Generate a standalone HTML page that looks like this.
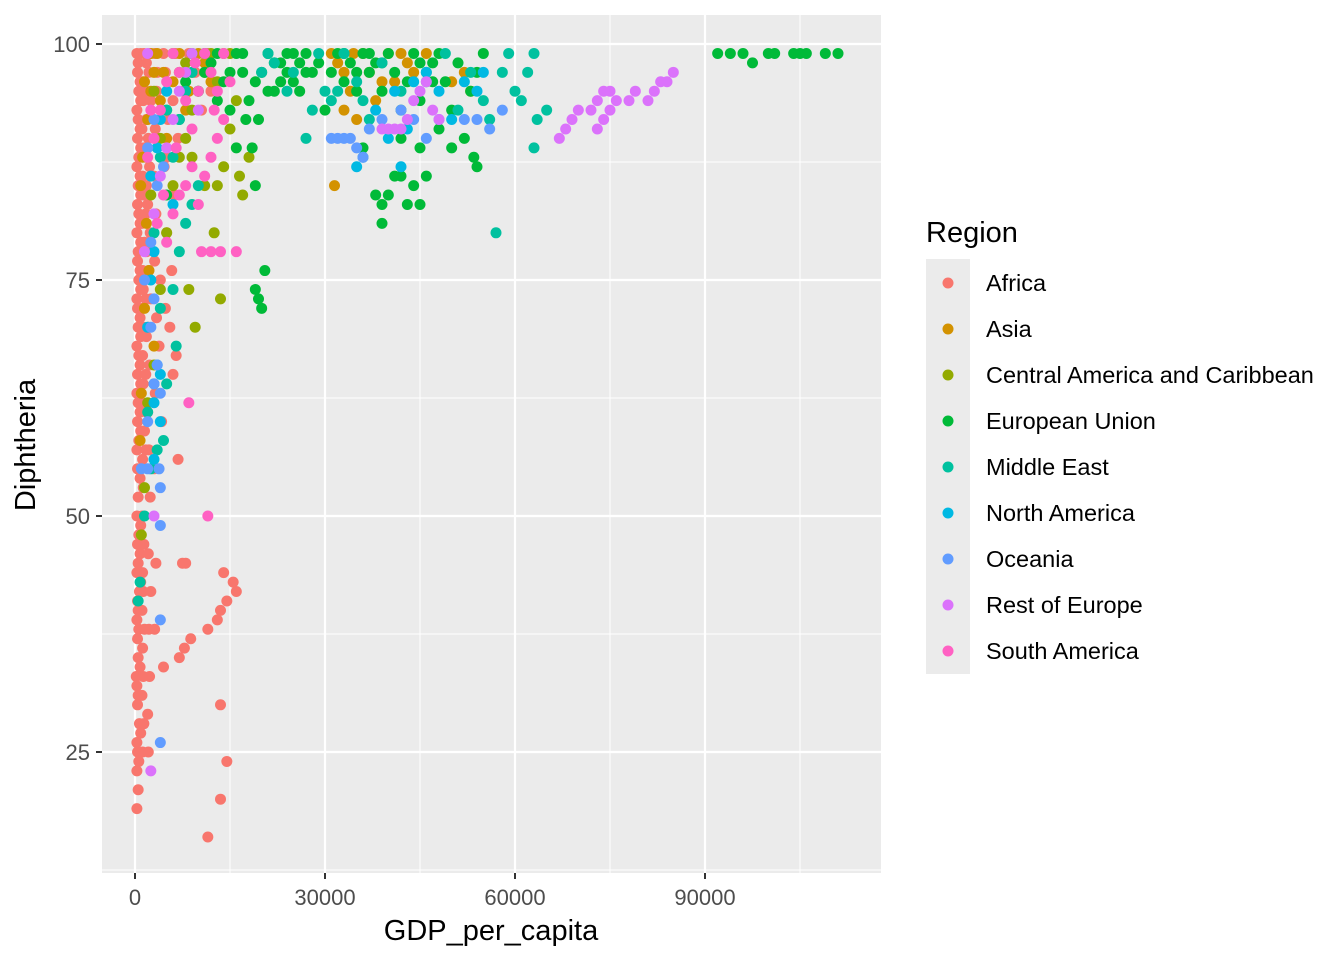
<!DOCTYPE html>
<html><head><meta charset="utf-8">
<style>
body{margin:0;background:#fff;font-family:"Liberation Sans",Arial,sans-serif;}
svg text{font-family:"Liberation Sans",Arial,sans-serif;}
</style></head>
<body>
<svg id="chart" width="1344" height="960" viewBox="0 0 1344 960" xmlns="http://www.w3.org/2000/svg">
<rect width="1344" height="960" fill="#fff"/>
<rect x="102" y="15" width="779" height="858" fill="#ebebeb"/>
<g id="grid"></g>
<g id="points"></g>
<g id="axes"></g>
<text x="491" y="940" font-size="29" text-anchor="middle" fill="#000">GDP_per_capita</text>
<text transform="translate(35,445) rotate(-90)" font-size="29" text-anchor="middle" fill="#000">Diphtheria</text>
<g id="legend">
<text x="926" y="242" font-size="29" fill="#000">Region</text>
<rect x="926" y="259" width="44" height="415" fill="#ebebeb"/>
</g>
</svg>
<script>
const regions = ["Africa","Asia","Central America and Caribbean","European Union","Middle East","North America","Oceania","Rest of Europe","South America"];
const colors = ["#F8766D","#D39200","#93AA00","#00BA38","#00C19F","#00B9E3","#619CFF","#DB72FB","#FF61C3"];
const xTicks = [0,30000,60000,90000];
const yTicks = [25,50,75,100];
const africa = [
[300,19],[500,21],[300,23],[600,24],[400,25],[300,26],[700,28],[400,30],[500,31],[300,32],[200,33],[500,35],[400,37],[600,38],[300,39],[500,40],[400,41],[700,42],[300,44],[500,45],[400,47],[600,48],[300,50],[500,52],[400,55],[300,57],[600,58],[400,60],[500,62],[300,63],[400,65],[600,67],[300,68],[500,70],[400,72],[300,73],[600,75],[400,77],[500,78],[300,80],[600,82],[400,83],[500,85],[300,87],[600,88],[400,90],[500,92],[300,93],[600,95],[400,97],[500,98],[300,99],
[900,27],[800,34],[900,43],[800,46],[900,49],[800,54],[900,59],[800,61],[900,64],[800,66],[900,69],[800,71],[900,74],[800,76],[900,79],[800,81],[900,84],[800,86],[900,89],[800,91],[900,94],[800,96],[900,99],
[1200,25],[1400,28],[1100,31],[1300,33],[1200,36],[1500,38],[1100,40],[1300,42],[1200,44],[1400,47],[1100,50],[1300,53],[1200,56],[1500,59],[1100,62],[1300,64],[1200,67],[1400,70],[1100,72],[1300,74],[1200,76],[1500,79],[1100,81],[1300,84],[1200,86],[1400,89],[1100,91],[1300,94],[1200,96],[1400,99],
[1700,57],[1800,61],[1700,65],[1800,69],[1700,73],[1800,78],[1700,82],[1800,85],[1700,88],[1800,92],[1700,95],[1800,98],
[2100,25],[2000,29],[2300,33],[2200,38],[2500,42],[2100,46],[2400,52],[2200,57],[2000,61],[2300,66],[2100,70],[2500,73],[2200,76],[2400,80],[2000,83],[2300,87],[2100,90],[2500,94],[2200,97],[2400,99],
[3100,38],[3300,45],[3000,55],[3200,63],[3400,71],[3100,77],[3300,82],[3000,86],[3200,91],[3400,95],[3100,99],
[4500,34],[4200,60],[4800,72],[5000,80],[4600,87],[5200,92],[4800,97],[6000,65],[6500,67],[5800,76],[6200,84],[6800,90],[6400,99],[7000,35],[7500,45],[8000,45],[7800,36],[8800,37],[7600,95],[8500,99],[9500,97],[10500,93],[11000,99],[12000,95],[11500,99],[5500,70],[4000,75],[3800,68],[5000,88],[6000,94],[3500,97],[4500,99],
[11500,16],[13500,20],[14500,24],[13500,30],[11500,38],[13000,39],[13500,40],[14500,41],[14000,44],[15500,43],[16000,42],[6800,56]];
const asia = [
[800,58],[1000,63],[1500,72],[900,85],[1200,88],[2000,92],[2500,95],[3000,97],[3500,99],[4000,94],[5000,90],[6000,96],[7000,99],[8000,93],[9000,97],[10000,99],[12000,96],[14000,99],[1800,81],[2200,76],[3000,68],[1500,96],[2500,99],[4500,97],[8500,95],[11000,98],
[31500,85],[31000,99],[33000,97],[34000,95],[35000,92],[36000,99],[37000,97],[38000,94],[40000,99],[41000,96],[43000,98],[44000,97],[46000,99],[50000,96],[52000,97],[53000,95],[33000,93],[32000,98],[34500,99],[39000,96],[42000,99]];
const centralAm = [
[1000,48],[1500,53],[2000,62],[3000,66],[4000,74],[5000,80],[6000,85],[7000,88],[8000,90],[9000,93],[10000,95],[11000,97],[12000,99],[13000,85],[14000,87],[15000,91],[16000,94],[17000,84],[16500,86],[13500,73],[9500,70],[8500,74],[12500,80],[11000,85],[9000,88],[6000,99],[3000,95],[2500,84],[4000,90],[7000,97],[18000,88],[5000,93],[8000,98],[13000,96],[15000,99]];
const eu = [
[5000,84],[7000,92],[8000,96],[9000,99],[10000,95],[12000,98],[13000,99],[14000,96],[15000,93],[16000,99],[17000,97],[18000,94],[19000,85],[18500,89],[19500,92],[20000,97],[21000,99],[22000,95],[23000,98],[24000,99],[25000,96],[26000,98],[27000,99],[28000,97],[30000,93],[32000,99],[33000,96],[34000,98],[35000,95],[36000,99],[37000,97],[38000,98],[39000,95],[40000,99],[41000,97],[42000,93],[43000,96],[44000,99],[45000,94],[46000,97],[47000,98],[48000,99],[49000,96],[50000,93],[51000,98],[52000,90],[53000,95],[54000,97],[55000,99],[48000,91],
[11000,97],[13000,94],[15000,97],[17000,99],[19000,96],[21000,95],[22000,98],[23000,96],[24000,97],[25000,99],[26000,95],[27000,97],[29000,98],[31000,97],[33000,99],[35000,97],[37000,99],[39000,98],[45000,98],[47000,96],[16000,89],[17500,92],
[19000,74],[19500,73],[20000,72],[20500,76],[38000,84],[39000,83],[40000,84],[41000,86],[42000,86],[43000,83],[44000,85],[45000,83],[46000,86],[39000,81],[53500,88],[54000,87],[50000,89],[45000,89],[36000,89],[42000,90],
[92000,99],[94000,99],[96000,99],[97500,98],[100000,99],[101000,99],[104000,99],[105000,99],[106000,99],[109000,99],[111000,99]];
const middleEast = [
[500,41],[800,43],[1500,50],[2500,55],[3500,57],[4500,58],[2000,61],[3000,64],[5000,64],[6500,68],[4000,72],[6000,74],[7000,78],[8000,81],[9000,83],[10000,85],[6000,88],[7000,92],[8000,95],[9000,97],[11000,99],[3000,80],[4000,88],[5000,93],
[20000,97],[21000,99],[22000,98],[24000,95],[27000,90],[28000,93],[29000,99],[30000,95],[31000,94],[33000,99],[35000,96],[37000,92],[39000,98],[42000,95],[46000,96],[49000,99],[51000,93],[53000,97],[55000,94],[56000,92],[57000,80],[58000,97],[59000,99],[60000,95],[62000,97],[63000,99],[63000,89],[63500,92],[65000,93],[61000,94],[25000,97],[32000,95],[36000,94]];
const northAm = [
[2000,70],[2500,75],[3000,78],[3500,66],[4000,65],[3000,62],[4000,60],[2500,86],[3500,89],[4000,92],[5000,95],[6000,83],[3000,56],
[35000,87],[36000,88],[38000,93],[40000,90],[41000,95],[42000,87],[43000,91],[44000,96],[46000,97],[48000,95],[50000,92],[52000,96],[54000,95],[55000,97]];
const oceania = [
[4000,26],[4000,39],[4000,49],[4000,53],[1000,55],[2000,55],[3800,55],[2000,60],[3000,64],[3500,66],[4000,63],[2500,70],[3000,73],[1500,75],[2500,79],[3500,85],[2000,89],[3000,92],[4500,87],
[31000,90],[32000,90],[33000,90],[34000,90],[35000,89],[36000,88],[37000,91],[39000,92],[42000,93],[44000,92],[46000,90],[48000,92],[52000,92],[54000,92],[56000,91],[58000,93]];
const restEu = [
[2500,23],[3000,50],[1500,78],[3000,82],[4000,86],[5000,89],[6000,92],[7000,95],[8000,97],[9000,99],[10000,93],[2000,99],
[39000,91],[40000,91],[41000,91],[42000,91],[43000,92],[44000,94],[45000,95],[46000,96],[47000,93],[48000,92],
[67000,90],[68000,91],[69000,92],[70000,93],[72000,93],[73000,94],[74000,95],[74000,92],[75000,93],[76000,94],[78000,94],[79000,95],[81000,94],[82000,95],[83000,96],[84000,96],[85000,97],[73000,91],[75000,95]];
const southAm = [
[11500,50],[8500,62],[10500,78],[12000,78],[13500,78],[16000,78],[5000,79],[6000,82],[7000,84],[8000,85],[9000,87],[10000,83],[11000,86],[12000,88],[13000,90],[14000,92],[3000,90],[4000,93],[5000,96],[6000,99],[7000,97],[8000,94],[9000,91],[10000,95],[11000,99],[12000,97],[13000,95],[14000,99],[15000,96],[2000,88],[3500,81],[2500,93],[4500,84],[6500,89],[9500,98],[12500,93]];
const series = [africa,asia,centralAm,eu,middleEast,northAm,oceania,restEu,southAm];

const NS="http://www.w3.org/2000/svg";
const xScale = v => 135 + v*190/30000;
const yScale = v => 44 + (100-v)*236/25;
function mk(tag,attrs,parent){const e=document.createElementNS(NS,tag);for(const k in attrs)e.setAttribute(k,attrs[k]);parent.appendChild(e);return e;}
const grid=document.getElementById('grid'), axes=document.getElementById('axes'), pts=document.getElementById('points'), leg=document.getElementById('legend');
[15000,45000,75000,105000].forEach(v=>{const l=mk('line',{x1:xScale(v),x2:xScale(v),y1:15,y2:873,stroke:'#fff','stroke-width':1},grid);

});
[12.5,37.5,62.5,87.5].forEach(v=>{const l=mk('line',{x1:102,x2:881,y1:yScale(v),y2:yScale(v),stroke:'#fff','stroke-width':1},grid);

});
xTicks.forEach(v=>{const x=xScale(v);
const l=mk('line',{x1:x,x2:x,y1:15,y2:873,stroke:'#fff','stroke-width':2.2},grid);


mk('line',{x1:x,x2:x,y1:873,y2:879,stroke:'#333','stroke-width':2},axes);
const t=mk('text',{x:x,y:905,'font-size':22,'text-anchor':'middle',fill:'#4d4d4d'},axes);t.textContent=v;

});
yTicks.forEach(v=>{const y=yScale(v);
const l=mk('line',{x1:102,x2:881,y1:y,y2:y,stroke:'#fff','stroke-width':2.2},grid);


mk('line',{x1:96,x2:102,y1:y,y2:y,stroke:'#333','stroke-width':2},axes);
const t=mk('text',{x:90,y:y+8,'font-size':22,'text-anchor':'end',fill:'#4d4d4d'},axes);t.textContent=v;

});
series.forEach((s,i)=>{s.forEach(p=>{const c=mk('circle',{cx:xScale(p[0]),cy:yScale(p[1]),r:5.5,fill:colors[i]},pts);

});});
regions.forEach((r,i)=>{const y=283+i*46;
const c=mk('circle',{cx:948,cy:y,r:5.5,fill:colors[i]},leg);


const t=mk('text',{x:986,y:y+8,'font-size':23.5,fill:'#000'},leg);t.textContent=r;

});
</script>
</body></html>
